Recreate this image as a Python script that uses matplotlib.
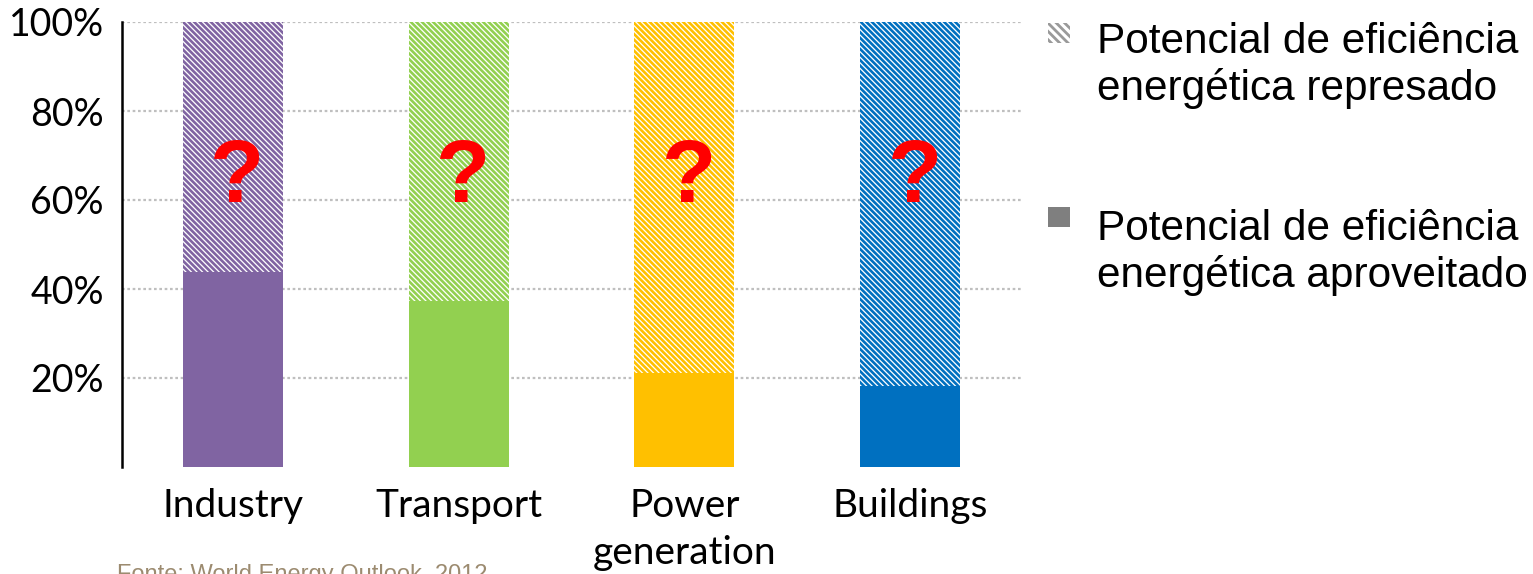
import matplotlib
matplotlib.use('Agg')
import matplotlib.pyplot as plt
from matplotlib.patches import Rectangle

categories = ['Industry', 'Transport', 'Power\ngeneration', 'Buildings']
aproveitado = [43.8, 37.3, 21.1, 18.2]
represado = [56.2, 62.7, 78.9, 81.8]
colors = ['#8064A2', '#92D050', '#FFC000', '#0070C0']
yticks = [20, 40, 60, 80, 100]
ytick_labels = ['20%', '40%', '60%', '80%', '100%']
legend_lines = [['Potencial de eficiência', 'energética represado'],
                ['Potencial de eficiência', 'energética aproveitado']]
source = 'Fonte: World Energy Outlook, 2012'

plt.rcParams['hatch.linewidth'] = 1.9
W, H = 1533, 574
fig = plt.figure(figsize=(W / 100, H / 100), dpi=100)
ax = fig.add_axes([122 / W, 107 / H, 900 / W, 445 / H])

x = list(range(len(categories)))
bw = 0.443
ax.bar(x, aproveitado, width=bw, color=colors, linewidth=0, zorder=2)
ax.bar(x, represado, bottom=aproveitado, width=bw, facecolor='white',
       edgecolor=colors, hatch='\\' * 6, linewidth=0, zorder=2)

for xi in x:
    ax.text(xi + 0.02, 64.8, '?', fontsize=64, fontweight='bold', color='red',
            family='Liberation Sans', ha='center', va='center', zorder=3)

ax.set_xlim(-0.492, 3.496)
ax.set_ylim(0, 100)
ax.set_yticks(yticks)
ax.set_yticklabels(ytick_labels, family='Lato', fontsize=27)
ax.set_xticks(x)
ax.set_xticklabels(categories, family='Lato', fontsize=28, linespacing=1.4)
ax.tick_params(axis='y', length=0, pad=13)
ax.tick_params(axis='x', length=0, pad=15)
ax.yaxis.grid(True, linestyle=(0, (1.2, 1.2)), color='#BFBFBF', linewidth=1.6, zorder=1)
ax.set_axisbelow(True)
for s in ['top', 'right', 'bottom']:
    ax.spines[s].set_visible(False)
ax.spines['left'].set_color('black')
ax.spines['left'].set_linewidth(1.8)

# legend
plt.rcParams['hatch.linewidth'] = 2.0
fig.patches.append(Rectangle((1048 / W, 1 - 43 / H), 22 / W, 20 / H, transform=fig.transFigure,
                             facecolor='white', edgecolor='#9A9A9A', hatch='\\' * 4, linewidth=0))
fig.patches.append(Rectangle((1048 / W, 1 - 227 / H), 22 / W, 20 / H, transform=fig.transFigure,
                             facecolor='#7F7F7F', linewidth=0))
baselines = [[53, 100], [240, 287]]
for lines, bls in zip(legend_lines, baselines):
    for t, b in zip(lines, bls):
        fig.text(1097 / W, 1 - b / H, t, fontsize=30.5, family='Liberation Sans',
                 va='baseline', ha='left', color='black')

fig.text(117 / W, 1 - 564 / H, source, color='#9C8B70', fontsize=17,
         family='Liberation Sans', va='top', ha='left')

fig.savefig('out.png', dpi=100)
